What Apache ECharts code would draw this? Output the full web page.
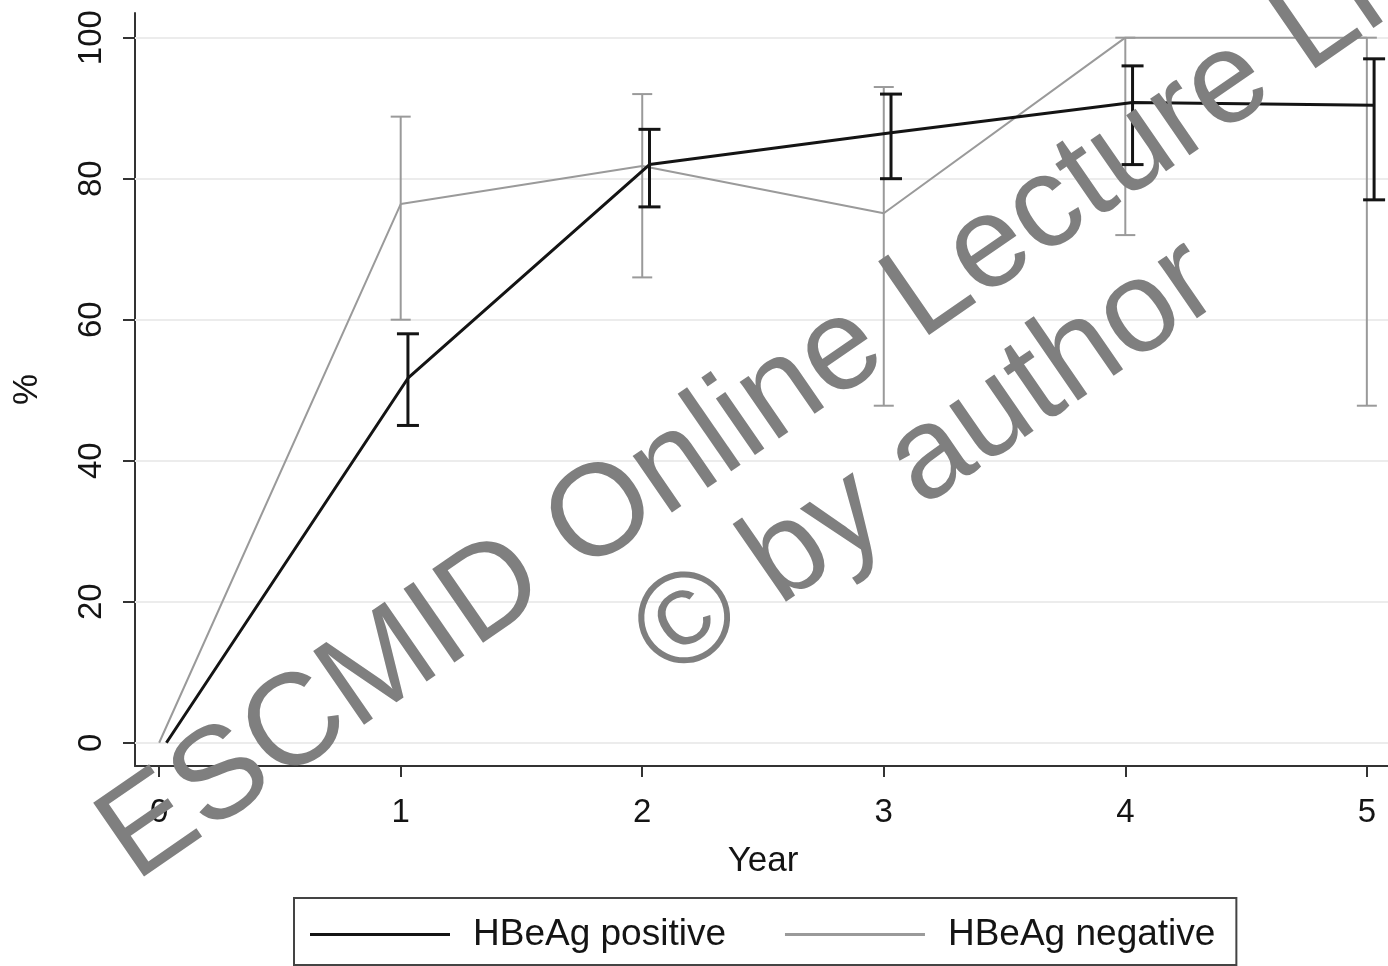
<!DOCTYPE html>
<html>
<head>
<meta charset="utf-8">
<script src="https://cdn.jsdelivr.net/npm/echarts@6/dist/echarts.min.js"></script>
<style>
html,body{margin:0;padding:0;background:#fff;overflow:hidden;}
#chart{width:1400px;height:966px;}
</style>
</head>
<body>
<div id="chart"></div>
<script>
// ---- data ----
var years = [0, 1, 2, 3, 4, 5];
var posValues = [0, 51.7, 82, 86.5, 90.8, 90.4];
var posLow = [null, 45, 76, 80, 82, 77];
var posHigh = [null, 58, 87, 92, 96, 97];
var negValues = [0, 76.4, 81.8, 75.1, 100, 100];
var negLow = [null, 60, 66, 47.8, 72, 47.8];
var negHigh = [null, 88.8, 92, 93, 100, 100];
var xTicks = [0, 1, 2, 3, 4, 5];
var yTicks = [0, 20, 40, 60, 80, 100];
var seriesNames = ['HBeAg positive', 'HBeAg negative'];
var xTitle = 'Year';
var yTitle = '%';
var watermark1 = 'ESCMID Online Lecture Library';
var watermark2 = '\u00A9 by author';

// ---- styling constants ----
var posShift = 0.03; // horizontal dodge of the positive group
var FONT = 'Liberation Sans, Arial, Helvetica, sans-serif';
var BLACK = '#141414';
var GREY = '#9a9a9a';
var WM_ROT = 0.604;

function lineData(vals, shift) {
  return years.map(function (y, i) { return [y + shift, vals[i]]; });
}
function barData(lo, hi, shift) {
  var out = [];
  years.forEach(function (y, i) {
    if (lo[i] != null && hi[i] != null) out.push([y + shift, lo[i], hi[i]]);
  });
  return out;
}
function errRender(color, width, half) {
  return function (params, api) {
    var x = api.value(0);
    var lo = api.coord([x, api.value(1)]);
    var hi = api.coord([x, api.value(2)]);
    var st = { stroke: color, lineWidth: width };
    return {
      type: 'group',
      children: [
        { type: 'line', shape: { x1: lo[0], y1: lo[1], x2: hi[0], y2: hi[1] }, style: st },
        { type: 'line', shape: { x1: lo[0] - half, y1: lo[1], x2: lo[0] + half, y2: lo[1] }, style: st },
        { type: 'line', shape: { x1: hi[0] - half, y1: hi[1], x2: hi[0] + half, y2: hi[1] }, style: st }
      ]
    };
  };
}

var chart = echarts.init(document.getElementById('chart'), null, { renderer: 'canvas' });
var option = {
  animation: false,
  backgroundColor: '#ffffff',
  textStyle: { fontFamily: FONT },
  grid: { left: 135, right: 9, top: 13, bottom: 200, containLabel: false },
  xAxis: {
    type: 'value', min: -0.1, max: 5.1,
    name: xTitle, nameLocation: 'middle', nameGap: 78,
    nameTextStyle: { fontSize: 35, color: BLACK, fontFamily: FONT },
    axisLine: { show: true, onZero: false, lineStyle: { color: '#333', width: 2 } },
    axisTick: { show: true, length: 11, customValues: xTicks, lineStyle: { color: '#333', width: 2 } },
    axisLabel: { customValues: xTicks, fontSize: 33, color: BLACK, margin: 30, fontFamily: FONT },
    splitLine: { show: false }
  },
  yAxis: {
    type: 'value', min: -3.3, max: 103.5,
    name: yTitle, nameLocation: 'middle', nameGap: 90, nameRotate: 90,
    nameTextStyle: { fontSize: 35, color: BLACK, fontFamily: FONT },
    axisLine: { show: true, onZero: false, lineStyle: { color: '#333', width: 2 } },
    axisTick: { show: true, length: 12, customValues: yTicks, lineStyle: { color: '#333', width: 2 } },
    axisLabel: { customValues: yTicks, rotate: 90, fontSize: 33, color: BLACK, margin: 27, fontFamily: FONT },
    splitLine: { show: false }
  },
  legend: {
    left: 294, top: 898,
    data: [
      { name: seriesNames[0], icon: 'rect' },
      { name: seriesNames[1], icon: 'rect' }
    ],
    orient: 'horizontal',
    itemWidth: 140, itemHeight: 3, itemGap: 59,
    borderColor: '#444', borderWidth: 2,
    padding: [18, 21, 12, 16],
    textStyle: { fontSize: 37, color: BLACK, fontFamily: FONT, padding: [0, 0, 0, 18] }
  },
  series: [
    {
      name: seriesNames[1], type: 'line', symbol: 'none',
      data: lineData(negValues, 0),
      lineStyle: { color: GREY, width: 2 }, itemStyle: { color: GREY },
      z: 2,
      markLine: {
        silent: true, symbol: 'none', label: { show: false },
        lineStyle: { color: '#ececec', width: 2, type: 'solid' },
        data: yTicks.map(function (v) { return { yAxis: v }; }),
        z: 1
      }
    },
    {
      type: 'custom', renderItem: errRender(GREY, 2, 10),
      data: barData(negLow, negHigh, 0), z: 3, silent: true
    },
    {
      name: seriesNames[0], type: 'line', symbol: 'none',
      data: lineData(posValues, posShift),
      lineStyle: { color: BLACK, width: 3 }, itemStyle: { color: BLACK },
      z: 4
    },
    {
      type: 'custom', renderItem: errRender(BLACK, 3, 11),
      data: barData(posLow, posHigh, posShift), z: 5, silent: true
    }
  ],
  graphic: [
    {
      type: 'text', x: 115, y: 853, rotation: WM_ROT, z: 100, silent: true,
      style: { text: watermark1, fill: '#7f7f7f', fontSize: 130, fontFamily: FONT, textAlign: 'left', verticalAlign: 'middle', textVerticalAlign: 'middle' }
    },
    {
      type: 'text', x: 650, y: 652, rotation: WM_ROT, z: 100, silent: true,
      style: { text: watermark2, fill: '#7f7f7f', fontSize: 130, fontFamily: FONT, textAlign: 'left', verticalAlign: 'middle', textVerticalAlign: 'middle' }
    }
  ]
};
chart.setOption(option);
</script>
</body>
</html>
